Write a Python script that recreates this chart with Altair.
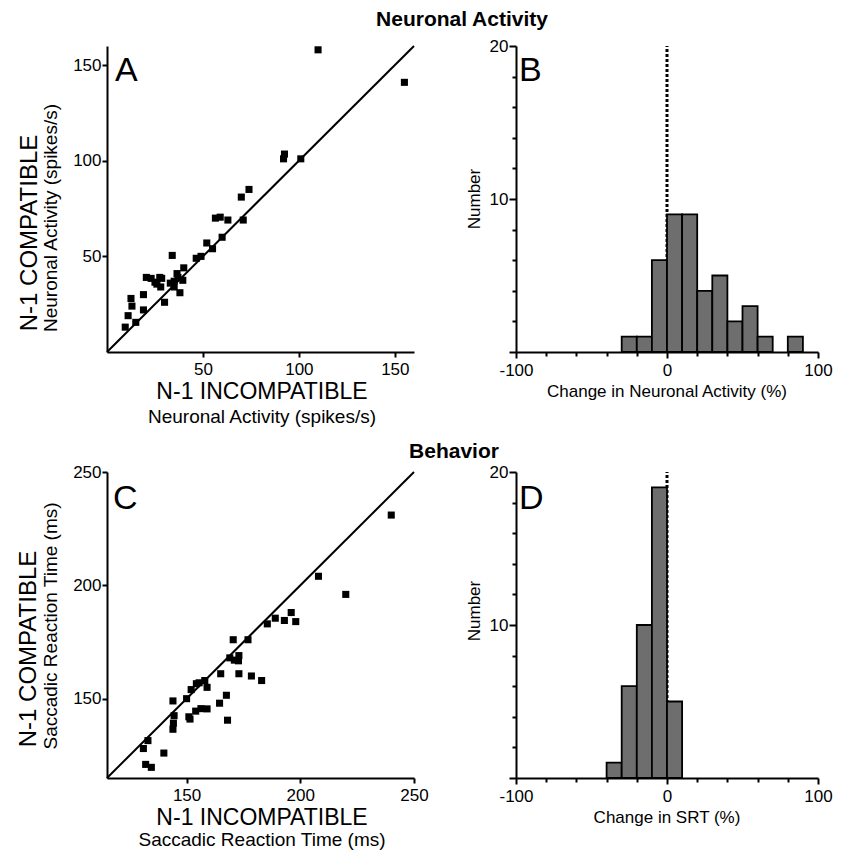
import altair as alt
import pandas as pd

FONT = "Liberation Sans"

# ---------------- data ----------------
# Panel A: neuronal activity (spikes/s)
a_x = [110, 155, 92.5, 92, 101, 74, 70, 71, 56.5, 59, 63, 60, 52, 55, 49, 46.5,
       34, 40, 37, 39.5, 35, 35, 38, 30, 20.5, 23, 25, 28.5, 26, 28, 27.5, 19,
       12.5, 13, 19, 11, 15, 9.5, 36.5, 33]
a_y = [158, 141, 103.5, 101, 101, 85, 81, 69, 70, 70.5, 69, 60, 57, 54, 50, 49,
       50.5, 44, 39, 37.5, 37, 34, 31, 26, 39, 38.5, 36.5, 38.5, 35.5, 34, 39, 30,
       28, 24, 22, 19, 15.5, 13, 41, 36]

# Panel C: saccadic reaction time (ms)
c_x = [240, 208, 220, 196, 198, 193, 189, 185.5, 177, 170.5, 173, 171, 172.8, 169,
       173, 178.5, 183, 165, 158, 155.5, 154.3, 152, 159, 150, 144, 167.5, 164.5,
       159, 156.3, 154, 151, 151.5, 168, 144.5, 144.2, 144, 133, 131, 140, 132, 134.5]
c_y = [231, 204, 196, 188, 184, 184.5, 185.5, 183, 176, 176, 169, 167, 166.7, 168,
       161, 160, 158, 161, 158, 157, 156.6, 154, 155, 150, 149, 151.5, 148,
       145.5, 145.6, 144.5, 142, 141, 140.5, 142.5, 139.2, 136.5, 131.5, 128, 126, 121, 119.7]

# Panel B: histogram of change in neuronal activity (%)
b_bin_start = [-30, -20, -10, 0, 10, 20, 30, 40, 50, 60, 70, 80]
b_counts = [1, 1, 6, 9, 9, 4, 5, 2, 3, 1, 0, 1]
# Panel D: histogram of change in SRT (%)
d_bin_start = [-40, -30, -20, -10, 0]
d_counts = [1, 6, 10, 19, 5]
bin_width = 10
zero_line = [0]

a_domain = [0, 160]
a_ticks = [50, 100, 150]
c_domain = [115, 250]
c_ticks = [150, 200, 250]
h_x_domain = [-100, 100]
h_x_ticks = list(range(-100, 101, 20))
h_y_domain = [0, 20]
h_y_ticks = list(range(0, 21, 2))

titles = {
    "top": "Neuronal Activity",
    "mid": "Behavior",
}


def txt(s, x, y, size, angle=0, align="center", baseline="alphabetic", weight="normal"):
    kw = dict(font=FONT, fontSize=size, align=align, baseline=baseline,
              fontWeight=weight, color="black")
    if angle:
        kw["angle"] = angle
    return alt.Chart(pd.DataFrame({"t": [s]})).mark_text(**kw).encode(
        text="t:N", x=alt.value(x), y=alt.value(y))


def scatter_panel(xs, ys, domain, ticks, w, h, texts):
    pts = pd.DataFrame({"x": xs, "y": ys})
    diag = pd.DataFrame({"x": domain, "y": domain})
    sc = alt.Scale(domain=domain, nice=False, zero=False)
    axx = alt.Axis(values=ticks, title=None, tickSize=5, labelPadding=4)
    axy = alt.Axis(values=ticks, title=None, tickSize=5, labelPadding=1)
    line = alt.Chart(diag).mark_line(color="black", strokeWidth=2).encode(
        x=alt.X("x:Q", scale=sc, axis=axx), y=alt.Y("y:Q", scale=sc, axis=axy))
    points = alt.Chart(pts).mark_square(size=50, color="black", opacity=1).encode(
        x=alt.X("x:Q", scale=sc, axis=axx), y=alt.Y("y:Q", scale=sc, axis=axy))
    return alt.layer(line, points, *texts).properties(width=w, height=h)


def hist_axes():
    axx = alt.Axis(values=h_x_ticks, title=None, labelPadding=4, labelOverlap=False,
                   labelExpr="abs(datum.value) === 100 || datum.value === 0 ? '' + datum.value : ''",
                   tickSize={"condition": {"test": "abs(datum.value) === 100 || datum.value === 0", "value": 6}, "value": 4})
    axy = alt.Axis(values=h_y_ticks, title=None, labelPadding=1, labelOverlap=False,
                   labelExpr="(datum.value === 10 || datum.value === 20) ? '' + datum.value : ''",
                   tickSize={"condition": {"test": "datum.value === 10 || datum.value === 20 || datum.value === 0", "value": 7}, "value": 4})
    return axx, axy


def hist_panel(starts, counts, w, h, texts):
    df = pd.DataFrame({"s": starts, "n": counts})
    df = df[df["n"] > 0].copy()
    df["e"] = df["s"] + bin_width
    df["b"] = 0
    xs = alt.Scale(domain=h_x_domain, nice=False, zero=False)
    ys = alt.Scale(domain=h_y_domain, nice=False)
    axx, axy = hist_axes()
    rule = alt.Chart(pd.DataFrame({"x": zero_line, "y": [h_y_domain[0]], "y2": [h_y_domain[1]]})).mark_rule(
        color="black", strokeWidth=3, strokeDash=[3, 2]).encode(
        x=alt.X("x:Q", scale=xs, axis=axx), y=alt.Y("y:Q", scale=ys, axis=axy), y2="y2:Q")
    bars = alt.Chart(df).mark_bar(fill="#6e6e6e", stroke="black", strokeWidth=1.8, opacity=1).encode(
        x=alt.X("s:Q", scale=xs, axis=axx), x2="e:Q",
        y=alt.Y("n:Q", scale=ys, axis=axy), y2="b:Q")
    return alt.layer(rule, bars, *texts).properties(width=w, height=h)


W1, W2 = 307, 302
H1, H2 = 306, 306

A = scatter_panel(a_x, a_y, a_domain, a_ticks, W1, H1, [
    txt("A", 8, 35, 34, align="left"),
    txt(titles["top"], 355, -20, 21, weight="bold"),
    txt("N-1 COMPATIBLE", -77, 187, 24, angle=270, baseline="middle"),
    txt("Neuronal Activity (spikes/s)", -56, 172, 19, angle=270, baseline="middle"),
    txt("N-1 INCOMPATIBLE", 155, 353, 23),
    txt("Neuronal Activity (spikes/s)", 155, 377, 19),
])

B = hist_panel(b_bin_start, b_counts, W2, H1, [
    txt("B", 3, 35, 34, align="left"),
    txt("Number", -41, 153, 17, angle=270, baseline="middle"),
    txt("Change in Neuronal Activity (%)", 151, 351, 17),
])

C = scatter_panel(c_x, c_y, c_domain, c_ticks, W1, H2, [
    txt("C", 6, 37, 34, align="left"),
    txt(titles["mid"], 347, -14, 21, weight="bold"),
    txt("N-1 COMPATIBLE", -78, 177, 24, angle=270, baseline="middle"),
    txt("Saccadic Reaction Time (ms)", -56, 154, 19, angle=270, baseline="middle"),
    txt("N-1 INCOMPATIBLE", 155, 353, 23),
    txt("Saccadic Reaction Time (ms)", 155, 374, 19),
])

D = hist_panel(d_bin_start, d_counts, W2, H2, [
    txt("D", 3, 37, 34, align="left"),
    txt("Number", -41, 139, 17, angle=270, baseline="middle"),
    txt("Change in SRT (%)", 151, 351, 17),
])

chart = alt.concat(A, B, C, D, columns=2, spacing={"row": 120, "column": 102},
                   bounds="flush").properties(
    padding={"left": 9, "top": 1, "right": 5, "bottom": 0}
).configure_view(strokeWidth=0).configure_axis(
    grid=False, domainColor="black", domainWidth=2, tickColor="black", tickWidth=2,
    labelColor="black", labelFont=FONT, labelFontSize=17, labelFlush=False,
    labelOverlap=False, labelBound=False,
)

chart.save("out.html", embed_options={"renderer": "svg", "actions": False})
